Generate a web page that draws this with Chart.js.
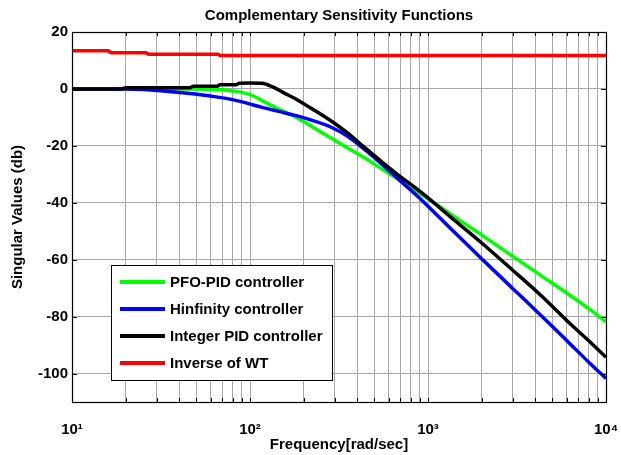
<!DOCTYPE html>
<html><head><meta charset="utf-8">
<script src="https://cdn.jsdelivr.net/npm/chart.js@4/dist/chart.umd.min.js"></script>
<style>html,body{margin:0;padding:0;background:#fff;}canvas{display:block;}</style>
</head><body>
<canvas id="c" width="621" height="455"></canvas>
<script>
// ---- data ----
const seriesLabels = ['PFO-PID controller', 'Hinfinity controller', 'Integer PID controller', 'Inverse of WT'];
const seriesColors = ['#00ff00', '#0000ff', '#000000', '#ff0000'];

const pfoFreq = [10, 20, 35, 49, 60, 70, 80, 90, 104, 117, 140, 182, 230, 282, 350, 435, 550, 705, 850, 1000, 1400, 1967, 2980, 4300, 6270, 8000, 10000];
const pfoDb   = [0, 0, 0, 0, -0.1, -0.3, -0.7, -1.2, -2.4, -4.1, -6.6, -10, -13.7, -17.1, -20.6, -24, -28.1, -32.4, -35.7, -38.6, -44.8, -51, -58.7, -65.5, -72.5, -77.2, -81.8];

const hinfFreq = [10, 20, 25, 35, 49, 60, 76, 95, 117, 145, 182, 230, 282, 350, 435, 550, 705, 850, 1000, 1400, 1967, 2980, 4300, 6270, 8000, 10000];
const hinfDb   = [0, 0, -0.2, -0.9, -1.8, -2.5, -3.5, -4.9, -6.5, -7.9, -9.4, -11.3, -13.3, -16.5, -21, -26.4, -32.5, -37, -41.2, -50.2, -59.2, -70, -79.5, -89.5, -96, -101.7];

const intFreq = [10, 19, 20, 46, 48, 65, 68, 84, 87, 100, 117, 135, 153, 190, 226, 294, 350, 435, 550, 705, 850, 1000, 1400, 1967, 2980, 4300, 6270, 8000, 10000];
const intDb   = [0, 0, 0.4, 0.4, 0.9, 0.9, 1.5, 1.5, 2.0, 2.1, 2.0, 0.6, -1.2, -4.3, -7.2, -11.8, -15.3, -20.3, -25.6, -31, -34.8, -38.3, -46, -53.7, -63.6, -72.5, -82.4, -88.5, -94.3];

const wtFreq = [10, 16, 16.6, 26, 27, 66, 68, 10000];
const wtDb   = [13.4, 13.4, 12.7, 12.7, 12.2, 12.2, 11.7, 11.7];

const xDecades = [10, 100, 1000, 10000];
const xDecadeLabels = ['10\u00B9', '10\u00B2', '10\u00B3', '10\u2074'];
const yTicks = [20, 0, -20, -40, -60, -80, -100];
const xMin = 10, xMax = 10000, yMin = -110, yMax = 20;

const titleText = 'Complementary Sensitivity Functions';
const xTitle = 'Frequency[rad/sec]';
const yTitle = 'Singular Values (db)';

// ---- build ----
const FONT = "'Liberation Sans', Arial, Helvetica, sans-serif";
const FS = 15;
function xy(f, v) { return f.map((x, i) => ({x: x, y: v[i]})); }

const xTickValues = [];
for (let d = 0; d < xDecades.length - 1; d++) {
  for (let m = 1; m <= 9; m++) xTickValues.push(xDecades[d] * m);
}
xTickValues.push(xDecades[xDecades.length - 1]);

const frame = {
  id: 'frame',
  afterDatasetsDraw(chart) {
    const ctx = chart.ctx, a = chart.chartArea;
    const xs = chart.scales.x, ys = chart.scales.y;
    ctx.save();
    ctx.strokeStyle = '#000';
    ctx.lineWidth = 1;
    ctx.beginPath();
    xTickValues.forEach(v => {
      const px = Math.round(xs.getPixelForValue(v)) + 0.5;
      ctx.moveTo(px, a.bottom); ctx.lineTo(px, a.bottom - 4);
      ctx.moveTo(px, a.top); ctx.lineTo(px, a.top + 4);
    });
    yTicks.forEach(v => {
      const py = Math.round(ys.getPixelForValue(v)) + 0.5;
      ctx.moveTo(a.left, py); ctx.lineTo(a.left + 5, py);
      ctx.moveTo(a.right, py); ctx.lineTo(a.right - 5, py);
    });
    ctx.stroke();
    ctx.lineWidth = 1.2;
    ctx.strokeRect(Math.round(a.left) + 0.5, Math.round(a.top) + 0.5, Math.round(a.right - a.left), Math.round(a.bottom - a.top));

    // legend box
    const bx = 111, by = 265, bw = 221, bh = 115;
    ctx.fillStyle = '#fff';
    ctx.fillRect(bx, by, bw, bh);
    ctx.lineWidth = 1;
    ctx.strokeStyle = '#000';
    ctx.strokeRect(bx + 0.5, by + 0.5, bw, bh);
    ctx.font = 'bold ' + FS + 'px ' + FONT;
    ctx.textBaseline = 'middle';
    ctx.textAlign = 'left';
    chart.data.datasets.forEach((ds, i) => {
      const yy = by + 17 + i * 27;
      ctx.strokeStyle = ds.borderColor;
      ctx.lineWidth = 4;
      ctx.beginPath(); ctx.moveTo(bx + 9, yy); ctx.lineTo(bx + 54, yy); ctx.stroke();
      ctx.fillStyle = '#000';
      ctx.fillText(ds.label, bx + 59, yy + 1);
    });
    ctx.restore();
  }
};

const seriesFreq = [pfoFreq, hinfFreq, intFreq, wtFreq];
const seriesDb = [pfoDb, hinfDb, intDb, wtDb];
const tf = { family: FONT, size: FS, weight: 'bold' };

new Chart(document.getElementById('c'), {
  type: 'line',
  data: {
    datasets: seriesLabels.map((lab, i) => ({
      label: lab,
      data: xy(seriesFreq[i], seriesDb[i]),
      borderColor: seriesColors[i],
      backgroundColor: seriesColors[i],
      borderWidth: 3.5,
      pointRadius: 0,
      fill: false,
      cubicInterpolationMode: i < 3 ? 'monotone' : 'default',
      tension: 0,
      order: 3 - i
    }))
  },
  options: {
    responsive: false,
    animation: false,
    devicePixelRatio: 1,
    layout: { padding: { left: 0, right: 15, top: 0, bottom: 0 } },
    plugins: {
      legend: { display: false },
      tooltip: { enabled: false },
      title: {
        display: true, text: titleText, color: '#000', fullSize: false,
        font: tf,
        padding: { top: 7, bottom: 7 }
      }
    },
    scales: {
      x: {
        type: 'logarithmic', min: xMin, max: xMax,
        afterBuildTicks(s) { s.ticks = xTickValues.map(v => ({value: v})); },
        afterFit(s) { s.height = 53; s.paddingLeft = 0; s.paddingRight = 0; },
        ticks: {
          autoSkip: false, maxRotation: 0, color: '#000', padding: 19,
          font: tf,
          callback(v) { const k = xDecades.indexOf(v); return k >= 0 ? xDecadeLabels[k] : ''; }
        },
        grid: { color: '#a8a8a8', lineWidth: 1, drawTicks: false },
        border: { display: false },
        title: { display: true, text: xTitle, color: '#000', font: tf, padding: { top: 0, bottom: 1 } }
      },
      y: {
        type: 'linear', min: yMin, max: yMax,
        afterBuildTicks(s) { s.ticks = yTicks.map(v => ({value: v})); },
        afterFit(s) { s.width = 72; s.paddingTop = 0; s.paddingBottom = 0; },
        ticks: { color: '#000', padding: 4, font: tf },
        grid: { color: '#a8a8a8', lineWidth: 1, drawTicks: false },
        border: { display: false },
        title: { display: true, text: yTitle, color: '#000', font: tf, padding: { top: 9, bottom: 0 } }
      }
    }
  },
  plugins: [frame]
});
</script>
</body></html>
